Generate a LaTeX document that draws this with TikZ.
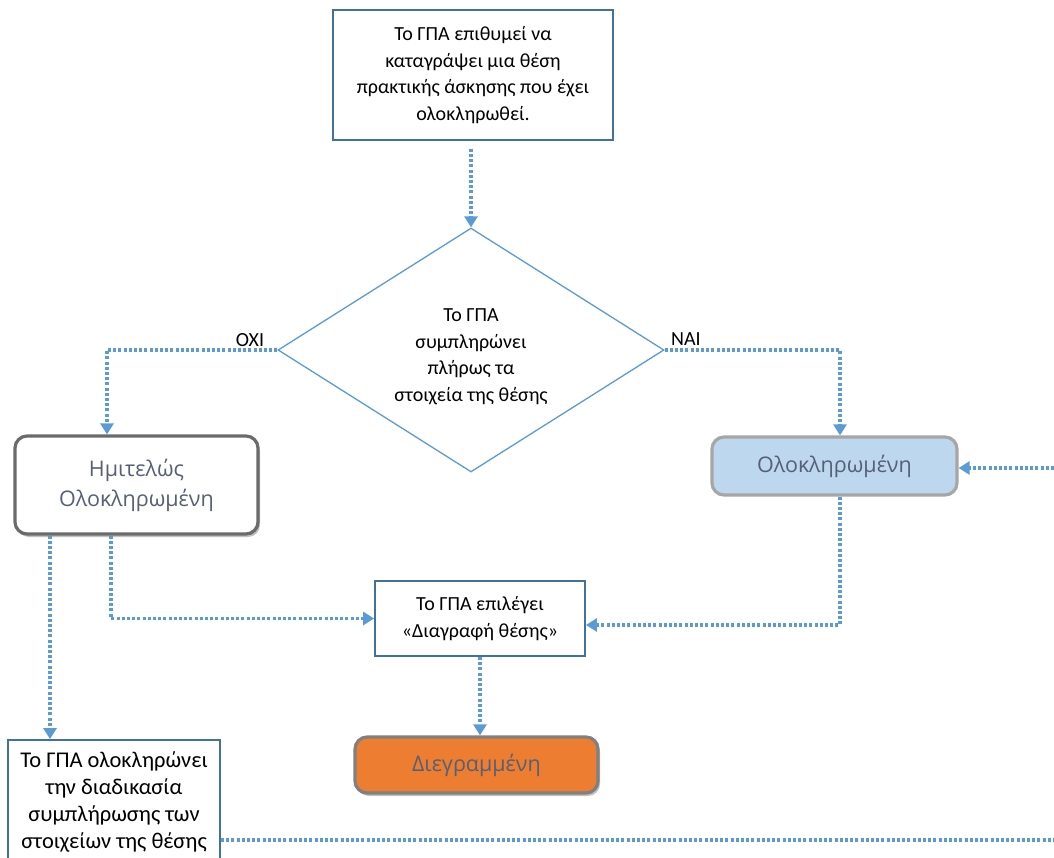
\documentclass[tikz,border=0pt]{standalone}
\usepackage{fontspec}
\setmainfont{Carlito}
\newfontfamily\roundfont{Open Sans}
\usetikzlibrary{arrows.meta,shapes.geometric,shadows}
\definecolor{lineblue}{HTML}{5B9BD5}
\definecolor{boxblue}{HTML}{41719C}
\definecolor{paleblue}{HTML}{BDD7EE}
\definecolor{orangefill}{HTML}{ED7D31}
\definecolor{graytext}{HTML}{566075}
\tikzset{
  flow/.style={draw=lineblue, line width=3.2pt, dash pattern=on 3pt off 2.2pt},
  arr/.style={flow, -{Triangle[width=13pt,length=11pt]}},
  plainbox/.style={draw=boxblue, line width=1.8pt, fill=white, inner sep=0pt, align=center,
    font=\fontsize{20}{26.5}\selectfont},
  roundbox/.style={rounded corners=12pt, line width=3.2pt, inner sep=0pt, align=center,
    text=graytext, font=\roundfont\fontsize{21.5}{30}\selectfont},
  shad/.style={drop shadow={shadow xshift=2pt, shadow yshift=-3pt, opacity=0.35, fill=black!70}},
  lbl/.style={font=\fontsize{20}{24}\selectfont, inner sep=0pt}
}
\begin{document}
\begin{tikzpicture}[x=1pt,y=-1pt]
\useasboundingbox (0,0) rectangle (1054,858);

\node[plainbox, minimum width=280pt, minimum height=130pt] (top) at (473,75)
  {Το ΓΠΑ επιθυμεί να\\καταγράψει μια θέση\\πρακτικής άσκησης που έχει\\ολοκληρωθεί.};

\node[diamond, draw=lineblue, line width=1.3pt, minimum width=386pt, minimum height=244pt,
  inner sep=0pt,
  label={[yshift=-7pt, align=center, inner sep=0pt, font=\fontsize{20}{26.5}\selectfont]center:Το ΓΠΑ\\συμπληρώνει\\πλήρως τα\\στοιχεία της θέσης}] (dia) at (471,350) {};

\node[roundbox, draw=black!58, fill=white, shad, minimum width=243pt, minimum height=98pt] (hemi) at (136.5,485)
  {Ημιτελώς\\Ολοκληρωμένη};

\node[roundbox, draw=black!35, fill=paleblue, minimum width=245pt, minimum height=58pt] (ol) at (834.5,466)
  {Ολοκληρωμένη};

\node[plainbox, minimum width=210pt, minimum height=75pt] (del) at (480,618.5)
  {Το ΓΠΑ επιλέγει\\«Διαγραφή θέσης»};

\node[roundbox, draw=black!50, fill=orangefill, shad, minimum width=243pt, minimum height=56pt] (dgr) at (476.5,765)
  {Διεγραμμένη};

\node[plainbox, minimum width=212pt, minimum height=124pt, font=\fontsize{22.5}{26.7}\selectfont] (last) at (114,802)
  {Το ΓΠΑ ολοκληρώνει\\την διαδικασία\\συμπλήρωσης των\\στοιχείων της θέσης};

\node[lbl] (oxi) at (250,340) {ΟΧΙ};
\node[lbl] (nai) at (686,339) {ΝΑΙ};

\coordinate (h1) at ([xshift=-86.5pt]hemi.south);
\coordinate (h2) at ([xshift=-25.5pt]hemi.south);
\coordinate (o1) at ([xshift=5.5pt]ol.south);
\coordinate (e1) at (1054,840);
\coordinate (e2) at (1054,468);

\draw[arr] ([yshift=-8pt]top.south -| dia.north) -- (dia.north);
\draw[arr] (dia.west) -| ([xshift=-29.5pt]hemi.north);
\draw[arr] (dia.east) -| ([xshift=5.5pt]ol.north);
\draw[arr] (h2) |- (del.west);
\draw[arr] (o1) |- ([yshift=-6.5pt]del.east);
\draw[arr] (del.south) -- (del.south |- dgr.north);
\draw[arr] (h1) -- (h1 |- last.north);
\draw[flow] ([yshift=-38pt]last.east) -- (e1);
\draw[arr] (e2) -- (e2 -| ol.east);
\end{tikzpicture}
\end{document}
